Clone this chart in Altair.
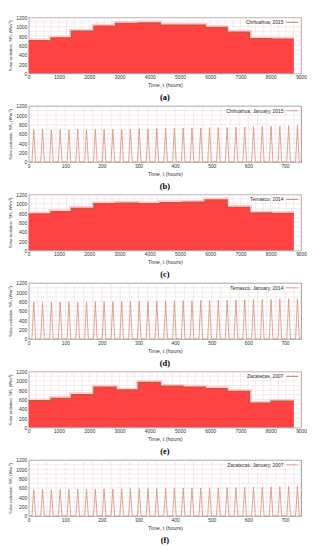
import altair as alt
import pandas as pd

# ---------------- data ----------------
MONTH_START_HOURS = [0, 744, 1416, 2160, 2880, 3624, 4344, 5088, 5832, 6552, 7296, 8016]
YEAR_END_HOURS = 8760
JAN_END_HOURS = 744

# monthly envelope (peak daily radiation, W/m2) for the annual panels
chihuahua_2015_peak = [700, 760, 900, 1010, 1070, 1080, 1030, 1030, 980, 880, 740, 730]
temasco_2014_peak = [780, 830, 900, 1000, 1010, 1000, 1020, 1030, 1080, 920, 800, 790]
zacatecas_2007_peak = [570, 620, 700, 860, 800, 960, 880, 860, 830, 770, 520, 560]

# daily peaks for January panels
chihuahua_jan_2015 = [690, 700, 690, 700, 690, 700, 690, 700, 695, 700, 695, 700, 710, 705, 715, 720,
                      720, 725, 730, 730, 735, 740, 740, 745, 750, 755, 760, 765, 770, 775, 780]
temasco_jan_2014 = [790, 785, 790, 790, 795, 790, 795, 800, 800, 800, 805, 805, 810, 805, 810, 815,
                    815, 820, 820, 825, 825, 830, 835, 840, 840, 845, 850, 850, 855, 860, 860]
zacatecas_jan_2007 = [565, 570, 565, 570, 570, 575, 575, 570, 580, 575, 580, 585, 585, 590, 585, 590,
                      595, 595, 600, 600, 605, 605, 610, 610, 615, 620, 620, 625, 630, 630, 635]

SUNRISE_H, NOON_H, SUNSET_H = 9, 14, 19

annual_x_ticks = [0, 1000, 2000, 3000, 4000, 5000, 6000, 7000, 8000, 9000]
jan_x_ticks = [0, 100, 200, 300, 400, 500, 600, 700]
y_ticks = [0, 200, 400, 600, 800, 1000, 1200]
annual_x_grid = list(range(0, 9001, 250))
jan_x_grid = list(range(0, 745, 25))
y_grid = list(range(0, 1201, 100))

# ---------------- style ----------------
W, H = 277, 57
FONT = "Liberation Sans"
GRID = "#ecdde1"
TXT = "#333333"
RED = "#ff4242"
BROWN = "#b0614c"
JANLINE = "#d68f7c"


def annual_df(peaks):
    return pd.DataFrame({"t": MONTH_START_HOURS + [YEAR_END_HOURS], "sr": peaks + [peaks[-1]]})


def january_df(peaks):
    rows = [{"t": 0, "sr": 0}]
    for d, p in enumerate(peaks):
        b = 24 * d
        rows += [{"t": b + SUNRISE_H, "sr": 0}, {"t": b + NOON_H, "sr": p}, {"t": b + SUNSET_H, "sr": 0}]
    rows.append({"t": JAN_END_HOURS, "sr": 0})
    df = pd.DataFrame(rows)
    df["i"] = range(len(df))
    return df


def panel(df, annual, legend, tag):
    xmax = 9000 if annual else 744
    xs = alt.Scale(domain=[0, xmax], nice=False, zero=False)
    ys = alt.Scale(domain=[0, 1200], nice=False)
    xaxis = alt.Axis(values=annual_x_ticks if annual else jan_x_ticks, title="Time, t (hours)",
                     grid=False, ticks=False, tickSize=0, domain=False, format="d",
                     labelFontSize=5, titleFontSize=5.5, labelPadding=1.5, titlePadding=3,
                     labelFont=FONT, titleFont=FONT, labelColor=TXT, titleColor=TXT,
                     titleFontWeight="normal", labelFlush=False)
    yaxis = alt.Axis(values=y_ticks, title="Solar radiation, SRₑ (Wm⁻²)",
                     grid=False, ticks=False, tickSize=0, domain=False, format="d",
                     labelFontSize=5, titleFontSize=4.3, labelPadding=2, titlePadding=3,
                     labelFont=FONT, titleFont=FONT, labelColor=TXT, titleColor=TXT,
                     titleFontWeight="normal", labelFlush=False)
    X = lambda f: alt.X(f, scale=xs, axis=xaxis)
    Y = lambda f: alt.Y(f, scale=ys, axis=yaxis)

    gx = alt.Chart(pd.DataFrame({"g": annual_x_grid if annual else jan_x_grid})).mark_rule(
        color=GRID, strokeWidth=0.6).encode(x=X("g:Q"))
    gy = alt.Chart(pd.DataFrame({"g": y_grid})).mark_rule(
        color=GRID, strokeWidth=0.6).encode(y=Y("g:Q"))
    layers = [gx, gy]
    base = alt.Chart(df)
    if annual:
        layers += [
            base.mark_line(interpolate="step-after", color="#ffc9d2", strokeWidth=5).encode(x=X("t:Q"), y=Y("sr:Q")),
            base.mark_area(interpolate="step-after", color=RED).encode(x=X("t:Q"), y=Y("sr:Q")),
            base.mark_line(interpolate="step-after", color=BROWN, strokeWidth=1.6).encode(x=X("t:Q"), y=Y("sr:Q")),
        ]
        lcol = BROWN
    else:
        layers += [
            base.mark_line(color=JANLINE, strokeWidth=0.8).encode(x=X("t:Q"), y=Y("sr:Q"), order="i:Q"),
        ]
        lcol = JANLINE
    ldf = pd.DataFrame({"label": [legend]})
    layers += [
        alt.Chart(ldf).mark_text(align="right", baseline="middle", fontSize=5, font=FONT, color=TXT).encode(
            x=alt.value(W - 18), y=alt.value(5), text="label:N"),
        alt.Chart(ldf).mark_rule(color=lcol, strokeWidth=0.8).encode(
            x=alt.value(W - 15), x2=alt.value(W - 3), y=alt.value(5)),
    ]
    return alt.layer(*layers).properties(
        width=W, height=H,
        title=alt.TitleParams(tag, orient="bottom", fontSize=8.5, font="Liberation Serif",
                              fontWeight="bold", color="#000000", offset=5))


panels = [
    panel(annual_df(chihuahua_2015_peak), True, "Chihuahua, 2015", "(a)"),
    panel(january_df(chihuahua_jan_2015), False, "Chihuahua, January, 2015", "(b)"),
    panel(annual_df(temasco_2014_peak), True, "Temasco, 2014", "(c)"),
    panel(january_df(temasco_jan_2014), False, "Temasco, January, 2014", "(d)"),
    panel(annual_df(zacatecas_2007_peak), True, "Zacatecas, 2007", "(e)"),
    panel(january_df(zacatecas_jan_2007), False, "Zacatecas, January, 2007", "(f)"),
]

chart = alt.vconcat(*panels, spacing=33, bounds="flush").properties(
    padding={"left": 0, "right": 0, "top": 0, "bottom": 0}
).configure_view(stroke="#808080", strokeWidth=0.8)

chart.save("out.html", embed_options={"renderer": "svg", "actions": False})
